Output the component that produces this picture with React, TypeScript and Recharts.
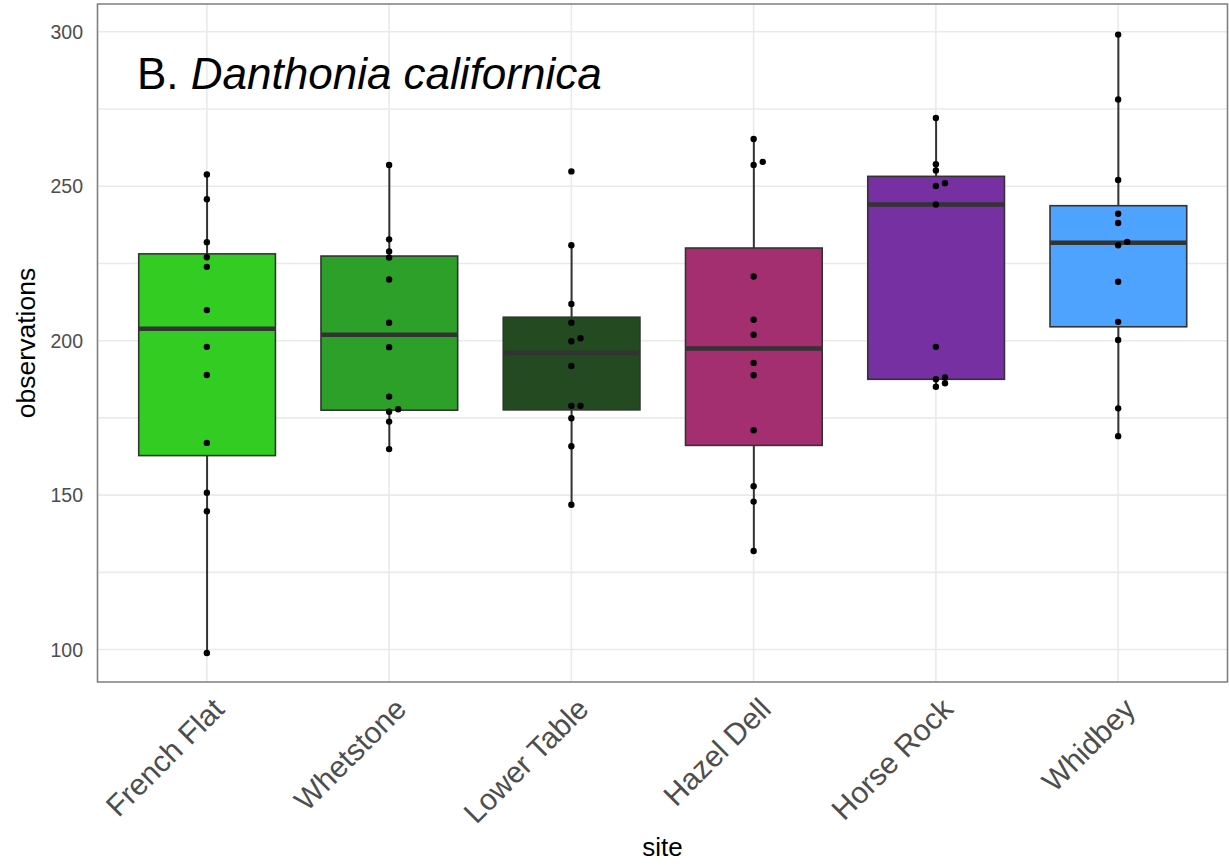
import React from "react";
import {
  ComposedChart,
  Bar,
  Scatter,
  XAxis,
  YAxis,
  CartesianGrid,
  ReferenceArea,
} from "recharts";

// ---------- data ----------
const sites = ["French Flat", "Whetstone", "Lower Table", "Hazel Dell", "Horse Rock", "Whidbey"];
const boxColors = ["#33CC22", "#2DA02A", "#234A21", "#A32F70", "#7630A2", "#4DA3FF"];

const q1 = [162.8, 177.5, 177.6, 166.1, 187.5, 204.5];
const medians = [203.9, 201.9, 196.0, 197.5, 244.1, 231.7];
const q3 = [228.1, 227.4, 207.6, 230.0, 253.2, 243.7];
const whiskerLow = [98.9, 164.9, 146.9, 131.9, 185.1, 169.1];
const whiskerHigh = [253.8, 256.9, 230.9, 265.3, 272.1, 299.1];

const frenchFlat = [253.8, 245.8, 231.9, 227.0, 223.9, 209.9, 198.0, 188.9, 166.9, 150.8, 144.8, 98.9];
const frenchFlatJitter = [0, 0, 0, 0, 0, 0, 0, 0, 0, 0, 0, 0];
const whetstone = [256.9, 232.8, 228.9, 226.9, 219.8, 205.8, 197.9, 181.9, 177.8, 177.0, 173.8, 164.9];
const whetstoneJitter = [0, 0, 0, 0, 0, 0, 0, 0, 0.05, 0, 0, 0];
const lowerTable = [254.8, 230.9, 211.9, 205.8, 200.8, 199.8, 191.8, 178.9, 178.9, 174.9, 165.8, 146.9];
const lowerTableJitter = [0, 0, 0, 0, 0.05, 0, 0, 0, 0.05, 0, 0, 0];
const hazelDell = [265.3, 257.9, 256.9, 220.8, 206.8, 201.9, 192.8, 188.8, 171.0, 152.9, 147.9, 131.9];
const hazelDellJitter = [0, 0.05, 0, 0, 0, 0, 0, 0, 0, 0, 0, 0];
const horseRock = [272.1, 257.1, 255.1, 251.0, 250.1, 244.1, 198.0, 188.1, 187.5, 186.2, 185.1];
const horseRockJitter = [0, 0, 0, 0.05, 0, 0, 0, 0.05, 0, 0.05, 0];
const whidbey = [299.1, 278.1, 252.0, 241.1, 238.1, 232.0, 230.9, 219.1, 206.1, 200.2, 178.1, 169.1];
const whidbeyJitter = [0, 0, 0, 0, 0, 0.05, 0, 0, 0, 0, 0, 0];

const yTicks = [100, 150, 200, 250, 300];
const yGrid = [100, 125, 150, 175, 200, 225, 250, 275, 300];
const xTicks = [1, 2, 3, 4, 5, 6];

// ---------- derived tables ----------
const boxData = sites.map((site, i) => ({
  x: i + 1,
  site,
  color: boxColors[i],
  q1: q1[i],
  median: medians[i],
  q3: q3[i],
  whiskerLow: whiskerLow[i],
  whiskerHigh: whiskerHigh[i],
  range: [whiskerLow[i], whiskerHigh[i]],
}));

const pointSets = [
  [frenchFlat, frenchFlatJitter],
  [whetstone, whetstoneJitter],
  [lowerTable, lowerTableJitter],
  [hazelDell, hazelDellJitter],
  [horseRock, horseRockJitter],
  [whidbey, whidbeyJitter],
];
const pointData = pointSets.flatMap(([vals, jit], i) =>
  vals.map((v, j) => ({ x: i + 1 + jit[j], y: v }))
);

const FONT = "'Liberation Sans', Arial, Helvetica, sans-serif";

function BoxShape(props: any) {
  const { x, y, width, height, payload } = props;
  if (!payload || x == null || y == null) return null;
  const top = Math.min(y, y + height);
  const bot = Math.max(y, y + height);
  const hi = payload.whiskerHigh;
  const lo = payload.whiskerLow;
  const pix = (v: number) => top + ((hi - v) / (hi - lo)) * (bot - top);
  const cx = x + width / 2;
  const yq3 = pix(payload.q3);
  const yq1 = pix(payload.q1);
  const ym = pix(payload.median);
  return (
    <g>
      <line x1={cx} x2={cx} y1={top} y2={yq3} stroke="#333333" strokeWidth={2} />
      <line x1={cx} x2={cx} y1={yq1} y2={bot} stroke="#333333" strokeWidth={2} />
      <rect x={x} y={yq3} width={width} height={yq1 - yq3} fill={payload.color} stroke="#333333" strokeWidth={1.6} />
      <line x1={x} x2={x + width} y1={ym} y2={ym} stroke="#333333" strokeWidth={4.5} />
    </g>
  );
}

function XTick(props: any) {
  const { x, y, payload } = props;
  const label = sites[Math.round(payload.value) - 1] ?? "";
  const ex = x + 19;
  const ey = y + 29;
  return (
    <text
      x={ex}
      y={ey}
      transform={`rotate(-45, ${ex}, ${ey})`}
      textAnchor="end"
      fontSize={30}
      fill="#4D4D4D"
      fontFamily={FONT}
    >
      {label}
    </text>
  );
}

function YTick(props: any) {
  const { x, y, payload } = props;
  return (
    <text x={x} y={y} dy="0.36em" textAnchor="end" fontSize={19.5} fill="#4D4D4D" fontFamily={FONT}>
      {payload.value}
    </text>
  );
}

export default function App() {
  return (
    <div style={{ position: "absolute", left: 0, top: 0, width: 1229, height: 865, background: "#fff" }}>
      <ComposedChart
        width={1229}
        height={865}
        data={boxData}
        margin={{ top: 4, right: 1.5, left: 0, bottom: 0 }}
      >
        <CartesianGrid
          horizontalValues={yGrid}
          verticalValues={xTicks}
          stroke="#EAEAEA"
          strokeWidth={1.6}
        />
        <XAxis
          type="number"
          dataKey="x"
          domain={[0.4, 6.6]}
          ticks={xTicks}
          interval={0}
          allowDataOverflow
          axisLine={false}
          tickLine={false}
          tickSize={0}
          tickMargin={0}
          height={183}
          tick={<XTick />}
          label={{
            content: (p: any) => {
              const vb = p.viewBox || {};
              const cx = (vb.x ?? 97.5) + (vb.width ?? 1130) / 2;
              return (
                <text x={cx} y={856} textAnchor="middle" fontSize={26} fill="#000" fontFamily={FONT}>
                  site
                </text>
              );
            },
          }}
        />
        <XAxis
          xAxisId="pts"
          type="number"
          dataKey="x"
          domain={[0.4, 6.6]}
          allowDataOverflow
          hide
        />
        <YAxis
          type="number"
          domain={[89.5, 309]}
          ticks={yTicks}
          allowDataOverflow
          axisLine={false}
          tickLine={false}
          tickSize={0}
          tickMargin={14.5}
          width={97.5}
          tick={<YTick />}
          label={{
            content: (p: any) => {
              const vb = p.viewBox || {};
              const cy = (vb.y ?? 4) + (vb.height ?? 678) / 2;
              return (
                <text
                  x={35}
                  y={cy}
                  transform={`rotate(-90, 35, ${cy})`}
                  textAnchor="middle"
                  fontSize={26.5}
                  fill="#000"
                  fontFamily={FONT}
                >
                  observations
                </text>
              );
            },
          }}
        />
        <Bar dataKey="range" barSize={136.7} shape={<BoxShape />} isAnimationActive={false} />
        <Scatter
          xAxisId="pts"
          data={pointData}
          dataKey="y"
          isAnimationActive={false}
          shape={(p: any) => <circle cx={p.cx} cy={p.cy} r={3.2} fill="#000" />}
        />
        <ReferenceArea
          x1={0.4}
          x2={6.6}
          y1={89.5}
          y2={309}
          fill="none"
          fillOpacity={0}
          stroke="#7F7F7F"
          strokeWidth={1.6}
          ifOverflow="visible"
        />
        <text x={137} y={89} fontSize={44} fill="#000" fontFamily={FONT}>
          B. <tspan fontStyle="italic">Danthonia californica</tspan>
        </text>
      </ComposedChart>
    </div>
  );
}
